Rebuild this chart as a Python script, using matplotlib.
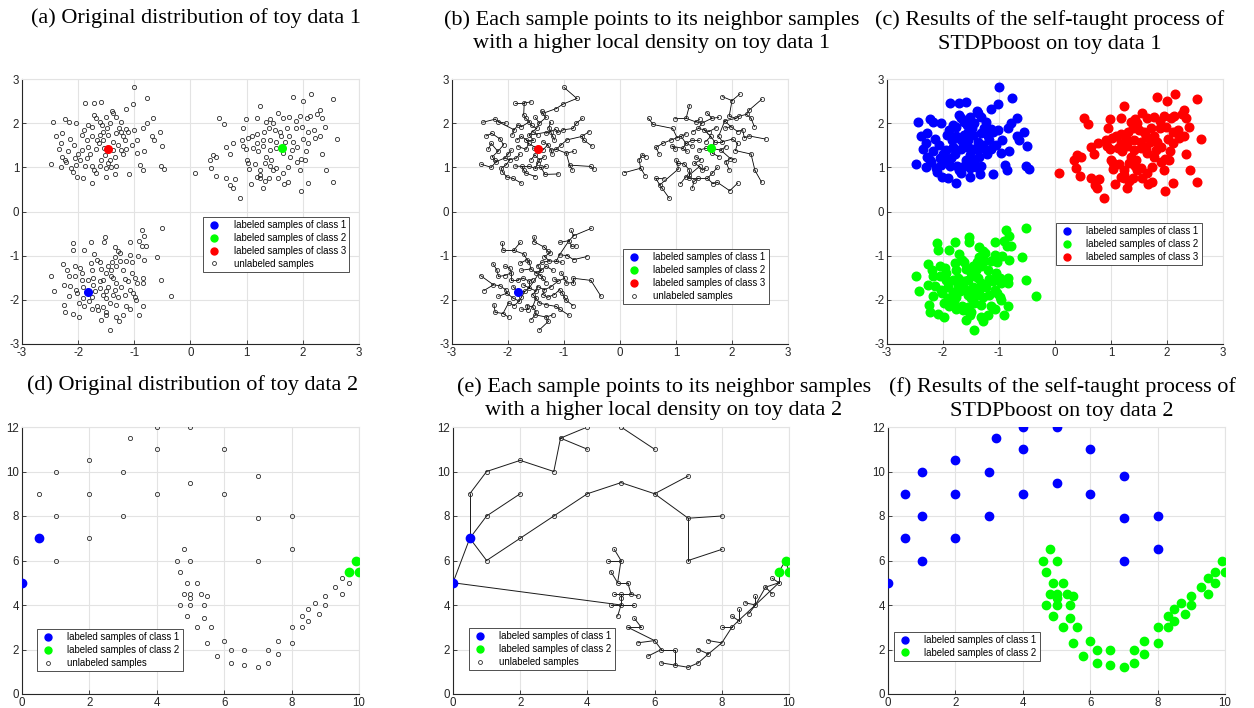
"""Toy data figures: original distribution, density links and self-taught results."""

import numpy as np
import matplotlib
matplotlib.use("Agg")
import matplotlib.pyplot as plt
from matplotlib.lines import Line2D

plt.rcParams["axes.unicode_minus"] = False

BLUE = "#0000ff"
GREEN = "#00ff00"
RED = "#ff0000"
EDGE = "#2b2b2b"
GRID_COLOR = "#e3e3e3"
SPINE_COLOR = "#262626"
TICK_FONT = "Liberation Sans"
TITLE_FONT = "Liberation Serif"

# ---------------- toy data 1 (three gaussian blobs) ----------------
blob_top_left = [
    (-1.0, 2.81), (-0.77, 2.56), (-1.87, 2.46), (-1.71, 2.46), (-1.59, 2.48), (-1.02, 2.43),
    (-1.40, 2.28), (-1.14, 2.33), (-2.45, 2.02), (-2.23, 2.09), (-2.17, 2.03), (-2.04, 2.0),
    (-1.89, 1.85), (-1.72, 2.19), (-1.68, 2.11), (-1.62, 2.03), (-1.51, 2.13), (-1.38, 2.22),
    (-1.32, 2.13), (-1.24, 2.02), (-1.44, 2.0), (-1.49, 1.88), (-1.56, 1.81), (-1.76, 1.92),
    (-1.82, 1.96), (-0.78, 2.0), (-0.67, 2.11), (-0.84, 1.88), (-1.01, 1.85), (-1.15, 1.86),
    (-1.11, 1.79), (-1.20, 1.70), (-0.55, 1.81), (-0.68, 1.70), (-0.65, 1.62), (-0.50, 1.48),
    (-2.39, 1.71), (-2.29, 1.77), (-2.14, 1.64), (-2.08, 1.51), (-2.30, 1.54), (-2.35, 1.41),
    (-2.28, 1.24), (-2.24, 1.17), (-2.21, 1.13), (-2.48, 1.07), (-2.30, 1.0), (-2.12, 0.98),
    (-2.10, 0.90), (-2.03, 1.06), (-2.02, 0.78), (-1.91, 0.75), (-1.76, 0.64), (-1.87, 1.03),
    (-1.75, 1.02), (-1.68, 0.87), (-2.0, 1.30), (-1.94, 1.39), (-1.82, 1.47), (-1.68, 1.41),
    (-1.63, 1.54), (-1.55, 1.62), (-1.38, 1.58), (-1.29, 1.51), (-1.23, 1.39), (-1.35, 1.24),
    (-1.44, 1.17), (-1.52, 1.28), (-1.59, 1.17), (-1.51, 0.98), (-1.62, 1.02), (-1.41, 1.0),
    (-1.32, 1.02), (-1.34, 0.84), (-1.51, 0.79), (-1.10, 0.85), (-0.96, 1.32), (-1.05, 1.51),
    (-0.95, 1.62), (-0.83, 1.36), (-0.90, 1.05), (-0.85, 0.94), (-0.52, 1.02), (-0.47, 0.96),
    (-1.21, 1.30), (-1.14, 1.41), (-1.84, 1.62), (-1.76, 1.70), (-1.93, 1.73), (-1.62, 1.73),
    (-1.67, 1.62), (-1.47, 1.73), (-1.32, 1.77), (-1.24, 1.81), (-1.97, 1.17), (-1.85, 1.21),
    (-1.79, 1.30), (-2.18, 1.36), (-2.06, 1.21), (-1.54, 1.43), (-1.38, 1.39), (-1.47, 1.09),
    (-1.17, 1.62), (-1.72, 0.94), (-1.27, 1.90), (-1.58, 1.95),
]

blob_top_right = [
    (2.14, 2.66), (1.83, 2.60), (2.00, 2.51), (2.53, 2.54), (1.24, 2.40), (0.51, 2.11),
    (0.59, 1.97), (0.98, 2.10), (1.18, 2.11), (1.35, 2.03), (1.42, 2.09), (1.55, 2.24),
    (1.64, 2.11), (1.76, 2.13), (1.87, 2.05), (1.95, 2.16), (2.07, 2.11), (2.13, 2.16),
    (2.31, 2.30), (2.26, 2.20), (2.34, 2.11), (2.40, 1.92), (2.60, 1.64), (2.31, 1.71),
    (2.19, 1.85), (2.10, 1.81), (1.98, 1.92), (1.88, 1.89), (1.72, 1.90), (1.59, 1.81),
    (1.50, 1.85), (1.40, 1.88), (1.30, 1.81), (1.18, 1.76), (1.09, 1.70), (0.94, 1.88),
    (1.02, 1.67), (0.91, 1.62), (0.76, 1.54), (0.64, 1.45), (0.70, 1.30), (0.40, 1.28),
    (0.34, 1.17), (0.46, 1.24), (0.37, 0.98), (0.45, 0.81), (0.08, 0.88), (0.64, 0.75),
    (0.79, 0.74), (0.71, 0.60), (0.75, 0.53), (0.88, 0.30), (1.03, 1.09), (1.04, 0.96),
    (1.18, 0.79), (1.08, 0.63), (1.23, 0.75), (1.32, 0.68), (1.40, 0.75), (1.29, 0.53),
    (1.47, 0.94), (1.56, 0.75), (1.66, 0.63), (1.74, 0.66), (1.65, 0.87), (1.74, 1.00),
    (1.77, 1.24), (1.89, 1.13), (1.97, 1.20), (2.04, 1.17), (2.06, 1.38), (1.95, 0.94),
    (1.96, 0.47), (2.10, 0.64), (2.34, 1.30), (2.41, 0.93), (2.53, 0.66), (1.65, 1.32),
    (1.53, 1.43), (1.41, 1.39), (1.29, 1.48), (1.20, 1.36), (1.12, 1.43), (0.99, 1.41),
    (0.93, 1.48), (1.35, 1.24), (1.44, 1.17), (1.33, 1.09), (1.42, 1.02), (1.53, 0.98),
    (1.24, 0.94), (1.24, 0.83), (1.83, 1.58), (1.76, 1.70), (1.69, 1.58), (1.89, 1.47),
    (1.80, 1.39), (1.62, 1.70), (1.41, 1.62), (1.53, 1.58), (1.29, 1.62), (1.18, 1.54),
    (2.01, 1.64), (2.10, 1.54), (2.22, 1.67), (1.00, 1.17), (1.14, 1.08), (1.46, 2.00),
]

blob_bottom = [
    (-0.51, -0.38), (-0.87, -0.43), (-0.83, -0.55), (-0.91, -0.66), (-0.79, -0.78), (-0.86, -0.79),
    (-1.08, -0.70), (-1.53, -0.58), (-1.54, -0.68), (-1.78, -0.70), (-2.10, -0.72), (-2.09, -0.88),
    (-1.90, -0.88), (-1.35, -0.81), (-1.29, -0.90), (-1.25, -0.94), (-1.35, -1.02), (-1.72, -0.96),
    (-1.66, -1.09), (-1.78, -1.17), (-1.62, -1.15), (-1.08, -0.98), (-1.14, -1.13), (-1.04, -1.15),
    (-0.94, -1.00), (-0.83, -1.09), (-0.59, -1.02), (-1.39, -1.15), (-1.47, -1.23), (-1.32, -1.24),
    (-1.26, -1.12), (-2.27, -1.18), (-2.20, -1.32), (-2.06, -1.24), (-1.97, -1.28), (-1.94, -1.39),
    (-1.76, -1.33), (-1.59, -1.30), (-1.50, -1.39), (-1.41, -1.33), (-1.20, -1.33), (-1.05, -1.39),
    (-0.99, -1.51), (-0.84, -1.51), (-0.52, -1.56), (-2.49, -1.45), (-2.17, -1.47), (-2.06, -1.45),
    (-1.94, -1.54), (-1.82, -1.54), (-1.73, -1.51), (-1.62, -1.58), (-1.56, -1.54), (-1.38, -1.51),
    (-1.32, -1.61), (-1.17, -1.53), (-1.11, -1.58), (-0.96, -1.62), (-0.84, -1.61), (-2.26, -1.66),
    (-2.15, -1.68), (-2.04, -1.77), (-2.43, -1.79), (-1.91, -1.70), (-1.73, -1.66), (-1.62, -1.73),
    (-1.47, -1.70), (-1.35, -1.77), (-1.24, -1.71), (-1.08, -1.77), (-1.03, -1.85), (-2.17, -1.92),
    (-2.02, -1.85), (-1.91, -1.96), (-1.76, -1.94), (-1.56, -1.88), (-1.50, -1.96), (-1.38, -1.88),
    (-1.29, -1.94), (-1.17, -1.88), (-0.99, -1.94), (-0.97, -2.00), (-0.34, -1.92), (-2.25, -2.11),
    (-1.99, -2.07), (-1.89, -2.13), (-1.66, -2.13), (-1.56, -2.16), (-1.44, -2.07), (-1.32, -2.11),
    (-1.14, -2.15), (-0.84, -2.13), (-2.23, -2.28), (-2.09, -2.31), (-1.99, -2.39), (-1.76, -2.21),
    (-1.64, -2.22), (-1.59, -2.45), (-1.51, -2.34), (-1.32, -2.39), (-1.28, -2.49), (-1.20, -2.34),
    (-1.08, -2.21), (-0.91, -2.35), (-1.44, -2.68), (-1.50, -2.27), (-1.80, -2.03), (-1.70, -1.81),
    (-1.50, -1.80), (-1.42, -1.45),
]

# labeled seeds of toy data 1
seed1_class1 = (-1.82, -1.82)   # blue, bottom blob
seed1_class2 = (1.63, 1.43)     # green, top-right blob
seed1_class3 = (-1.46, 1.41)    # red, top-left blob

# ---------------- toy data 2 (moon + scattered arc) ----------------
seed2_class1 = [(0.0, 5.0), (0.5, 7.0)]
seed2_class2 = [(9.9, 6.0), (9.7, 5.5), (10.0, 5.5)]

arc2 = [
    (0.5, 9), (1, 10), (1, 8), (1, 6), (2, 10.5), (2, 9), (2, 7), (3.2, 11.5), (3, 10), (3, 8),
    (4, 12), (4, 11), (4, 9), (5, 12), (5, 9.5), (6, 11), (6, 9), (7, 9.8), (7, 7.9), (7, 6),
    (8, 8), (8, 6.5),
]

moon2 = [
    (4.8, 6.5), (4.6, 6), (5, 6), (4.7, 5.5), (4.9, 5), (5.2, 5), (4.8, 4.5), (5, 4.5), (5.3, 4.5),
    (5.5, 4.4), (5, 4.3), (4.7, 4), (5, 4), (5.4, 4), (4.9, 3.5), (5.4, 3.4), (5.2, 3), (5.6, 3),
    (5.5, 2.3), (5.8, 1.7), (6, 2.4), (6.2, 2), (6.6, 2), (6.2, 1.4), (6.6, 1.3), (7, 1.2),
    (7.3, 1.4), (7.3, 2), (7.6, 1.8), (7.6, 2.4), (8, 2.3), (8, 3), (8.3, 3), (8.3, 3.5),
    (8.5, 3.3), (8.5, 3.8), (8.7, 4.1), (8.8, 3.6), (9, 4), (9, 4.4), (9.3, 4.8), (9.5, 4.5),
    (9.5, 5.2), (9.7, 5),
]

# links "point -> neighbour with higher local density"
links2 = [
    ((0.5, 7), (0, 5)), ((0.5, 9), (0.5, 7)), ((0.5, 9), (1, 10)), ((1, 10), (2, 10.5)),
    ((2, 10.5), (3, 10)), ((3, 10), (3.2, 11.5)), ((3.2, 11.5), (4, 12)), ((4, 11), (3.2, 11.5)),
    ((4, 12), (5, 12)), ((5, 12), (6, 11)), ((1, 8), (0.5, 7)), ((2, 9), (1, 8)),
    ((1, 6), (0.5, 7)), ((2, 7), (1, 6)), ((3, 8), (2, 7)), ((4, 9), (3, 8)), ((5, 9.5), (4, 9)),
    ((6, 9), (5, 9.5)), ((7, 9.8), (6, 9)), ((7, 7.9), (6, 9)), ((8, 8), (7, 7.9)),
    ((7, 6), (7, 7.9)), ((8, 6.5), (7, 6)), ((5, 4), (0, 5)),
    ((4.8, 6.5), (5, 6)), ((4.6, 6), (5, 6)), ((5, 6), (4.9, 5)), ((4.7, 5.5), (4.9, 5)),
    ((4.9, 5), (5.2, 5)), ((5.2, 5), (5.3, 4.5)), ((5.5, 4.4), (5.3, 4.5)), ((4.8, 4.5), (5, 4.5)),
    ((5, 4.5), (5.3, 4.5)), ((5, 4.3), (5, 4.5)), ((5, 4), (5, 4.3)), ((4.7, 4), (5, 4)),
    ((5.4, 4), (5, 4)), ((4.9, 3.5), (5, 4)), ((5.4, 3.4), (5.6, 3)), ((5.2, 3), (5.6, 3)),
    ((5.2, 3), (6, 2.4)), ((5.5, 2.3), (6, 2.4)), ((6, 2.4), (6.2, 2)), ((5.8, 1.7), (6.2, 2)),
    ((6.2, 2), (6.6, 2)), ((6.6, 2), (6.6, 1.3)), ((6.2, 1.4), (6.6, 1.3)), ((6.6, 1.3), (7, 1.2)),
    ((7, 1.2), (7.3, 1.4)), ((7.3, 1.4), (7.6, 1.8)), ((7.3, 2), (7.6, 1.8)), ((7.6, 1.8), (8, 2.3)),
    ((7.6, 2.4), (8, 2.3)), ((8, 2.3), (8.3, 3)), ((8, 3), (8.3, 3)), ((8.3, 3), (8.5, 3.3)),
    ((8.3, 3.5), (8.5, 3.3)), ((8.5, 3.8), (8.5, 3.3)), ((8.5, 3.3), (9, 4)), ((8.8, 3.6), (9, 4)),
    ((8.7, 4.1), (9, 4)), ((9, 4.4), (9, 4)), ((9, 4), (9.3, 4.8)), ((9.3, 4.8), (9.7, 5)),
    ((9.5, 4.5), (9.3, 4.8)), ((9.5, 5.2), (9.7, 5)), ((9, 4), (9.7, 5)), ((9.7, 5), (9.7, 5.5)),
    ((9.7, 5.5), (9.9, 6)), ((10, 5.5), (9.9, 6)),
]

TITLES = [
    "(a) Original distribution of toy data 1",
    "(b) Each sample points to its neighbor samples\nwith a higher local density on toy data 1",
    "(c) Results of the self-taught process of\nSTDPboost on toy data 1",
    "(d) Original distribution of toy data 2",
    "(e) Each sample points to its neighbor samples\nwith a higher local density on toy data 2",
    "(f) Results of the self-taught process of\nSTDPboost on toy data 2",
]
LEGEND_LABELS = ["labeled samples of class 1", "labeled samples of class 2",
                 "labeled samples of class 3", "unlabeled samples"]


def xy(points):
    arr = np.asarray(points, dtype=float)
    return arr[:, 0], arr[:, 1]


def style_axes(ax, xlim, ylim, ticks_x, ticks_y):
    ax.set_xlim(*xlim)
    ax.set_ylim(*ylim)
    ax.set_xticks(ticks_x)
    ax.set_yticks(ticks_y)
    ax.grid(True, color=GRID_COLOR, linewidth=0.8)
    ax.set_axisbelow(True)
    for side in ("left", "bottom"):
        ax.spines[side].set_color(SPINE_COLOR)
        ax.spines[side].set_linewidth(0.8)
    for side in ("top", "right"):
        ax.spines[side].set_color(GRID_COLOR)
        ax.spines[side].set_linewidth(0.8)
    ax.tick_params(direction="in", length=3, width=0.6, colors=SPINE_COLOR,
                   labelsize=8.3, pad=2, top=False, right=False)
    for lab in ax.get_xticklabels() + ax.get_yticklabels():
        lab.set_fontfamily(TICK_FONT)
    ax.set_facecolor("white")


def unlabeled(ax, points):
    x, y = xy(points)
    ax.plot(x, y, "o", ls="none", ms=3.0, mfc="none", mec=EDGE, mew=0.6, zorder=3)


def seed(ax, points, color, ms=5.5):
    x, y = xy(points)
    ax.plot(x, y, "o", ls="none", ms=ms, mfc=color, mec=color, zorder=4)


def legend(ax, colors, with_unlabeled, anchor, loc):
    handles = [Line2D([], [], ls="none", marker="o", ms=5, mfc=c, mec=c) for c in colors]
    labels = LEGEND_LABELS[:len(colors)]
    if with_unlabeled:
        handles.append(Line2D([], [], ls="none", marker="o", ms=2.8, mfc="none", mec=EDGE, mew=0.6))
        labels = labels + [LEGEND_LABELS[3]]
    leg = ax.legend(handles, labels, loc=loc, bbox_to_anchor=anchor, fancybox=False,
                    framealpha=1, edgecolor="#333333", handletextpad=1.2, borderpad=0.35,
                    labelspacing=0.3, handlelength=1.6, prop={"family": TICK_FONT, "size": 6.9})
    leg.get_frame().set_linewidth(0.6)
    leg.set_zorder(10)


def density_links(points, radius=0.5, dc=0.18):
    """Each point is linked to its nearest neighbour of higher local density."""
    pts = np.asarray(points, dtype=float)
    d = np.sqrt(((pts[:, None, :] - pts[None, :, :]) ** 2).sum(-1))
    rho = np.exp(-(d / dc) ** 2).sum(1)
    segs = []
    for i in range(len(pts)):
        higher = np.where((rho > rho[i]) & (d[i] < radius))[0]
        if len(higher):
            j = higher[np.argmin(d[i, higher])]
            segs.append((pts[i], pts[j]))
    return segs


fig = plt.figure(figsize=(12.54, 7.08), dpi=100)
fig.patch.set_facecolor("white")

W, H = 1254, 708
top_bottom = (708 - 344) / H
low_bottom = (708 - 694) / H
ax_a = fig.add_axes([22 / W, top_bottom, 337 / W, 265 / H])
ax_b = fig.add_axes([452 / W, top_bottom, 336 / W, 265 / H])
ax_c = fig.add_axes([887 / W, top_bottom, 336 / W, 265 / H])
ax_d = fig.add_axes([22 / W, low_bottom, 337 / W, 267 / H])
ax_e = fig.add_axes([453 / W, low_bottom, 336 / W, 267 / H])
ax_f = fig.add_axes([888 / W, low_bottom, 337 / W, 267 / H])

ticks3 = [-3, -2, -1, 0, 1, 2, 3]
for ax in (ax_a, ax_b, ax_c):
    style_axes(ax, (-3, 3), (-3, 3), ticks3, ticks3)
for ax in (ax_d, ax_e, ax_f):
    style_axes(ax, (0, 10), (0, 12), [0, 2, 4, 6, 8, 10], [0, 2, 4, 6, 8, 10, 12])

all_toy1 = blob_top_left + blob_top_right + blob_bottom

# (a)
unlabeled(ax_a, all_toy1)
seed(ax_a, [seed1_class1], BLUE)
seed(ax_a, [seed1_class2], GREEN)
seed(ax_a, [seed1_class3], RED)
legend(ax_a, [BLUE, GREEN, RED], True, (0.985, 0.498), "upper right")

# (b)
toy1_with_seeds = all_toy1 + [seed1_class1, seed1_class2, seed1_class3]
for p, q in density_links(toy1_with_seeds):
    ax_b.plot([p[0], q[0]], [p[1], q[1]], color="black", lw=0.6, zorder=2)
unlabeled(ax_b, all_toy1)
seed(ax_b, [seed1_class1], BLUE)
seed(ax_b, [seed1_class2], GREEN)
seed(ax_b, [seed1_class3], RED)
legend(ax_b, [BLUE, GREEN, RED], True, (0.958, 0.377), "upper right")

# (c)
seed(ax_c, blob_top_left + [seed1_class3], BLUE, ms=6.2)
seed(ax_c, blob_top_right + [seed1_class2], RED, ms=6.2)
seed(ax_c, blob_bottom + [seed1_class1], GREEN, ms=6.2)
legend(ax_c, [BLUE, GREEN, RED], False, (0.952, 0.475), "upper right")

# (d)
unlabeled(ax_d, arc2 + moon2)
seed(ax_d, seed2_class1, BLUE, ms=6)
seed(ax_d, seed2_class2, GREEN, ms=6)
legend(ax_d, [BLUE, GREEN], True, (0.03, 0.067), "lower left")

# (e)
for p, q in links2:
    ax_e.plot([p[0], q[0]], [p[1], q[1]], color="#1a1a1a", lw=0.7, zorder=2)
unlabeled(ax_e, arc2 + moon2)
seed(ax_e, seed2_class1, BLUE, ms=6)
seed(ax_e, seed2_class2, GREEN, ms=6)
legend(ax_e, [BLUE, GREEN], True, (0.033, 0.071), "lower left")

# (f)
seed(ax_f, seed2_class1 + arc2, BLUE, ms=6)
seed(ax_f, seed2_class2 + moon2, GREEN, ms=6)
legend(ax_f, [BLUE, GREEN], False, (0.003, 0.105), "lower left")

# panel titles (serif, above each axes)
title_pos = [(196, 18), (652, 32), (1050, 32), (193, 385), (664, 399), (1062, 399)]
for text, (px, py) in zip(TITLES, title_pos):
    fig.text(px / W, 1 - py / H, text, ha="center", va="center", family=TITLE_FONT,
             fontsize=16, color="black", linespacing=1.3)

fig.savefig("out.png", dpi=100, facecolor="white")
